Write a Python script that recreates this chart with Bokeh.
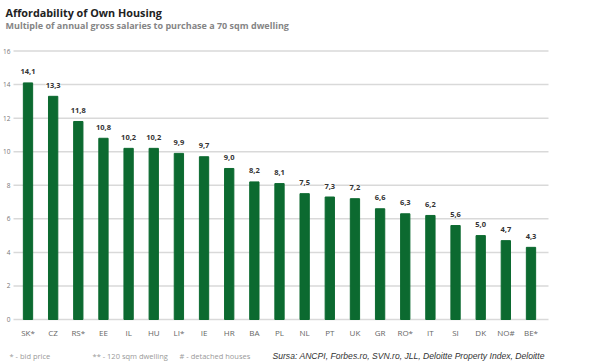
from bokeh.plotting import figure
from bokeh.models import ColumnDataSource, LabelSet, Label, Range1d
from bokeh.core.properties import value
from bokeh.embed import file_html
from bokeh.resources import INLINE

countries = ["SK*", "CZ", "RS*", "EE", "IL", "HU", "LI*", "IE", "HR", "BA", "PL",
             "NL", "PT", "UK", "GR", "RO*", "IT", "SI", "DK", "NO#", "BE*"]
values = [14.1, 13.3, 11.8, 10.8, 10.2, 10.2, 9.9, 9.7, 9.0, 8.2, 8.1,
          7.5, 7.3, 7.2, 6.6, 6.3, 6.2, 5.6, 5.0, 4.7, 4.3]
value_labels = [f"{v:.1f}".replace(".", ",") for v in values]
y_ticks = [0, 2, 4, 6, 8, 10, 12, 14, 16]
y_tick_labels = [str(t) for t in y_ticks]

title = "Affordability of Own Housing"
subtitle = "Multiple of annual gross salaries to purchase a 70 sqm dwelling"
notes = ["* - bid price", "** - 120 sqm dwelling", "# - detached houses"]
source_note = "Sursa: ANCPI, Forbes.ro, SVN.ro, JLL, Deloitte Property Index, Deloitte"

FONT = "Open Sans"
GREEN = "#0c6a30"
W, H = 600, 361
PX_X = 25.15          # pixels per category
PX_Y = 16.78          # pixels per unit
X0_PX = 27.5          # canvas x of first category centre
Y0_PX = 319           # canvas y of value 0

pos = list(range(len(countries)))
src = ColumnDataSource(dict(x=pos, v=values, t=value_labels, c=countries))
tick_src = ColumnDataSource(dict(y=y_ticks, t=y_tick_labels))

p = figure(width=W, height=H, output_backend="svg", toolbar_location=None,
           x_range=Range1d(-X0_PX / PX_X, (W - X0_PX) / PX_X),
           y_range=Range1d(-(H - Y0_PX) / PX_Y, Y0_PX / PX_Y),
           min_border=0)
p.axis.visible = False
p.grid.visible = False
p.outline_line_color = None
p.background_fill_color = "white"
p.border_fill_color = "white"

# grid lines
gx0 = (13 - X0_PX) / PX_X
gx1 = (548 - X0_PX) / PX_X
p.segment(x0=gx0, x1=gx1, y0="y", y1="y", source=tick_src,
          line_color="#d9d9d9", line_width=1.5)

# y tick labels
p.add_layout(LabelSet(x=10, x_units="screen", y="y", text="t", source=tick_src,
                      text_align="right", text_baseline="middle",
                      text_font=value(FONT), text_font_size="6.5px",
                      text_color="#777777"))

# bars
p.vbar(x="x", top="v", width=0.37, source=src, color=GREEN)

# value labels
p.add_layout(LabelSet(x="x", y="v", text="t", source=src, text_align="center",
                      text_baseline="alphabetic", y_offset=8.5, text_font=value(FONT),
                      text_font_size="7.5px", text_font_style="bold",
                      text_color="#333333", background_fill_color="white"))

# category labels
p.add_layout(LabelSet(x="x", y=0, text="c", source=src, text_align="center",
                      text_baseline="alphabetic", y_offset=-16, text_font=value(FONT),
                      text_font_size="8px", text_color="#666666"))

def lab(x, ytop, text, size, color, style="normal", font=FONT, baseline="top"):
    p.add_layout(Label(x=x, y=H - ytop, x_units="screen", y_units="screen", text=text,
                       text_font=font, text_font_size=size, text_color=color,
                       text_font_style=style, text_baseline=baseline,
                       text_align="left"))

lab(5, 4, title, "10.8px", "#222222", "bold")
lab(5, 18, subtitle, "9px", "#858585", "bold")
lab(9, 355, notes[0], "7.5px", "#999999", baseline="alphabetic")
lab(92, 355, notes[1], "7.5px", "#999999", baseline="alphabetic")
lab(179, 355, notes[2], "7.5px", "#999999", baseline="alphabetic")
lab(272, 355, source_note, "8.6px", "#333333", "italic",
    font="Liberation Sans", baseline="alphabetic")

open("out.html", "w").write(file_html(p, INLINE))
